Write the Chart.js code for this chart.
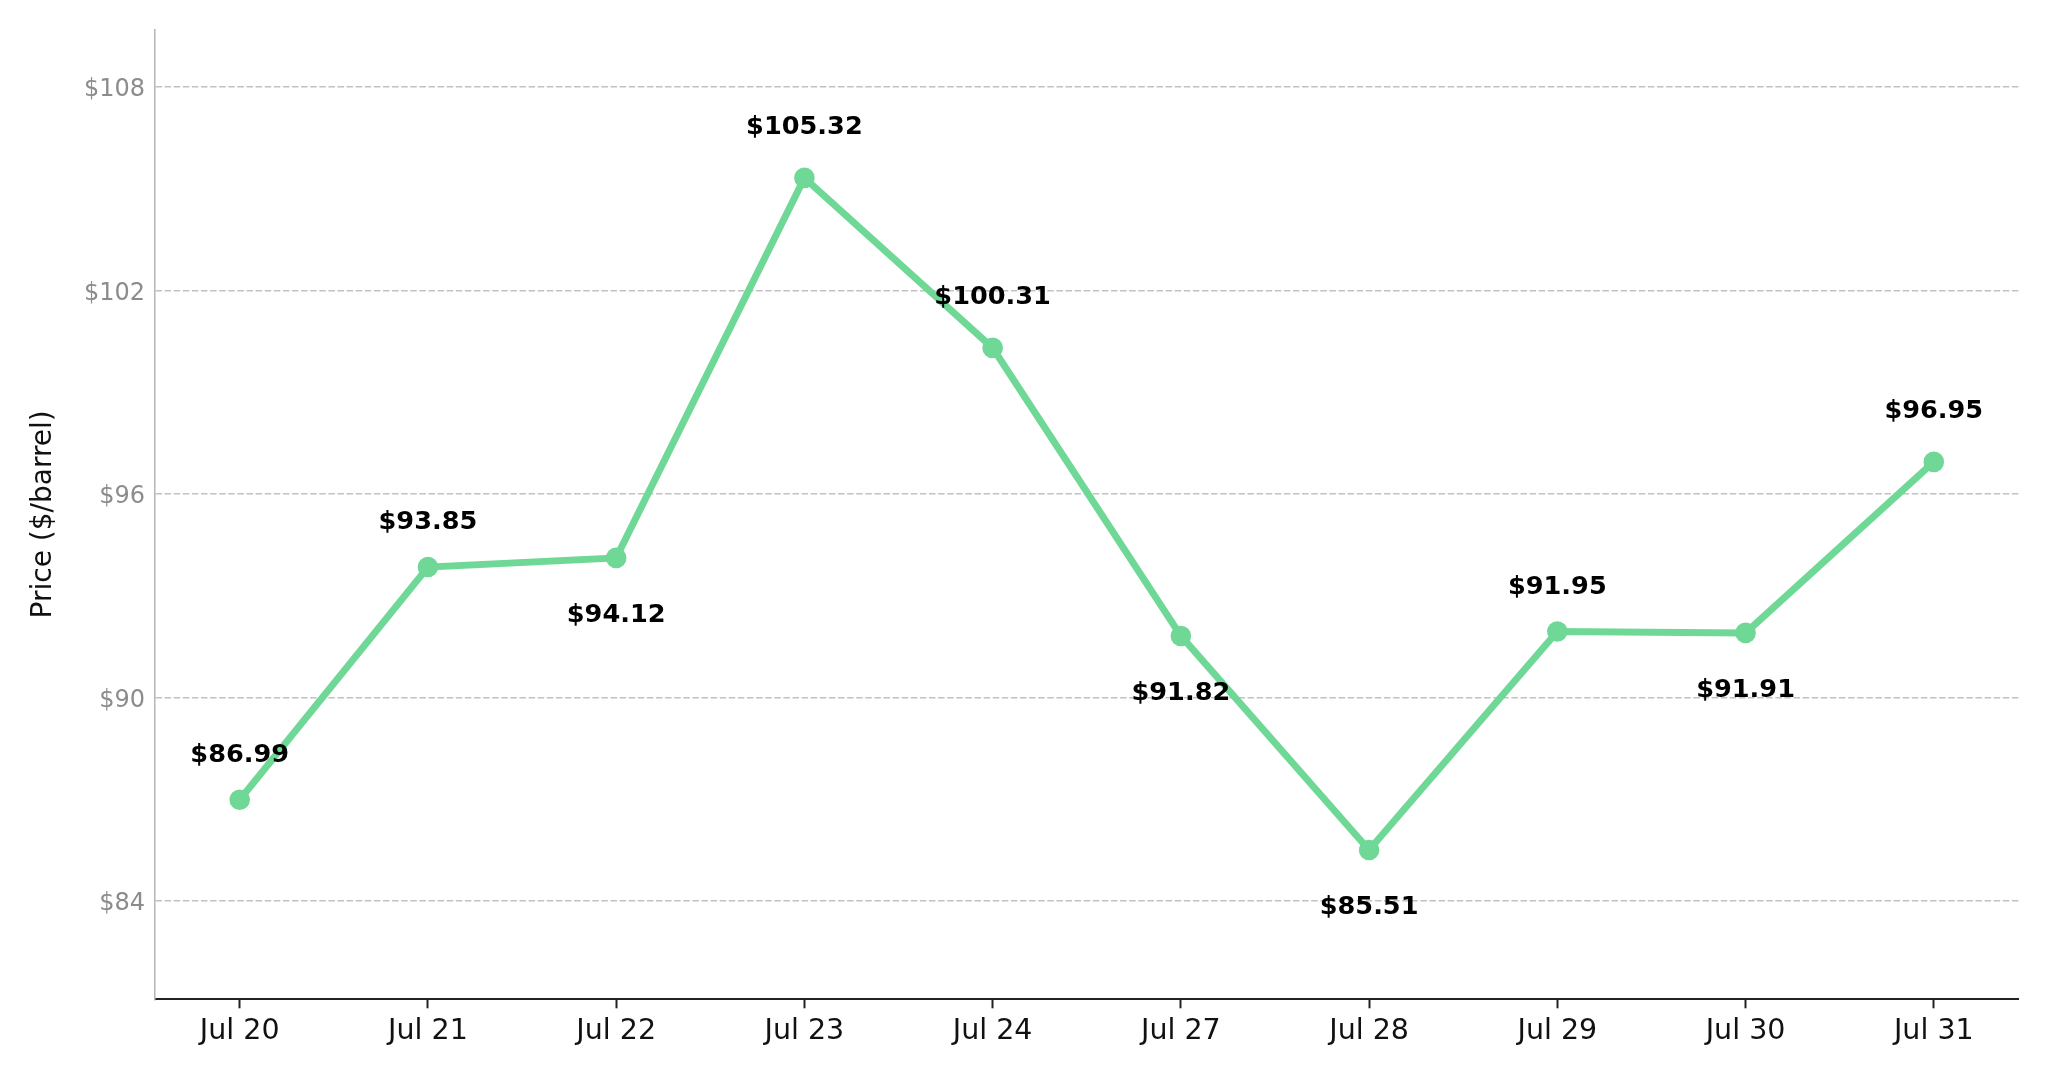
<!DOCTYPE html>
<html>
<head>
<meta charset="utf-8">
<title>Price ($/barrel)</title>
<script src="https://cdn.jsdelivr.net/npm/chart.js@4.4.1/dist/chart.umd.min.js"></script>
<style>
    html, body { margin: 0; padding: 0; background: #fff; }
    #wrap { width: 2048px; height: 1073px; }
</style>
</head>
<body>
<div id="wrap"><canvas id="priceChart"></canvas></div>
<script>
// Data
const dates = ['Jul 20', 'Jul 21', 'Jul 22', 'Jul 23', 'Jul 24', 'Jul 27', 'Jul 28', 'Jul 29', 'Jul 30', 'Jul 31'];
const prices = [86.99, 93.85, 94.12, 105.32, 100.31, 91.82, 85.51, 91.95, 91.91, 96.95];
const priceTicks = [84, 90, 96, 102, 108];

const FONT = "'DejaVu Sans', 'Liberation Sans', sans-serif";
const LINE_COLOR = '#6fd897';

// Value labels above / below each point (pixels, + is above)
const valueLabels = {
    id: 'valueLabels',
    afterDatasetsDraw(chart, args, opts) {
        const ctx = chart.ctx;
        const meta = chart.getDatasetMeta(0);
        ctx.save();
        ctx.font = 'bold 25.6px ' + FONT;
        ctx.fillStyle = '#000';
        ctx.textAlign = 'center';
        ctx.textBaseline = 'alphabetic';
        meta.data.forEach((pt, i) => {
            const off = opts.offsets[i];
            ctx.fillText('$' + prices[i].toFixed(2), pt.x, pt.y - off + 9.3);
        });
        ctx.restore();
    }
};

const ctx = document.getElementById('priceChart').getContext('2d');
new Chart(ctx, {
    type: 'line',
    data: {
        datasets: [{
            label: 'Price',
            data: prices.map((v, i) => ({ x: i, y: v })),
            borderColor: LINE_COLOR,
            backgroundColor: LINE_COLOR,
            pointBackgroundColor: LINE_COLOR,
            pointBorderWidth: 0,
            pointRadius: 10.3,
            borderWidth: 7,
            tension: 0,
            fill: false
        }]
    },
    options: {
        responsive: true,
        maintainAspectRatio: false,
        animation: false,
        layout: { padding: { left: 0, top: 29.3, right: 29.5, bottom: 0 } },
        plugins: {
            legend: { display: false },
            tooltip: { enabled: false },
            valueLabels: { offsets: [47, 47, -55, 53, 53, -55, -55, 47, -55, 53] }
        },
        scales: {
            x: {
                type: 'linear',
                min: -0.45,
                max: 9.45,
                afterBuildTicks: s => { s.ticks = dates.map((_, i) => ({ value: i })); },
                afterFit: s => { s.height = 73.7; },
                grid: {
                    drawOnChartArea: false,
                    drawTicks: true,
                    tickLength: 9,
                    tickWidth: 2,
                    color: '#222'
                },
                border: { color: '#222', width: 2 },
                ticks: {
                    padding: 6,
                    color: '#111',
                    font: { family: FONT, size: 28.5 },
                    maxRotation: 0,
                    autoSkip: false,
                    callback: v => dates[v]
                }
            },
            y: {
                min: 81.11,
                max: 109.7,
                afterBuildTicks: s => { s.ticks = priceTicks.map(v => ({ value: v })); },
                afterFit: s => { s.width = 155; },
                grid: {
                    drawTicks: false,
                    color: '#c2c2c2',
                    lineWidth: 1.5
                },
                border: { color: '#b5b5b5', width: 1.5, dash: [6.5, 2.6] },
                ticks: {
                    padding: 10,
                    labelOffset: 3,
                    color: '#8c8c8c',
                    font: { family: FONT, size: 24 },
                    callback: v => '$' + v
                },
                title: {
                    display: true,
                    text: 'Price ($/barrel)',
                    color: '#111',
                    font: { family: FONT, size: 28 },
                    padding: { top: 27, bottom: 0 }
                }
            }
        }
    },
    plugins: [valueLabels]
});
</script>
</body>
</html>
